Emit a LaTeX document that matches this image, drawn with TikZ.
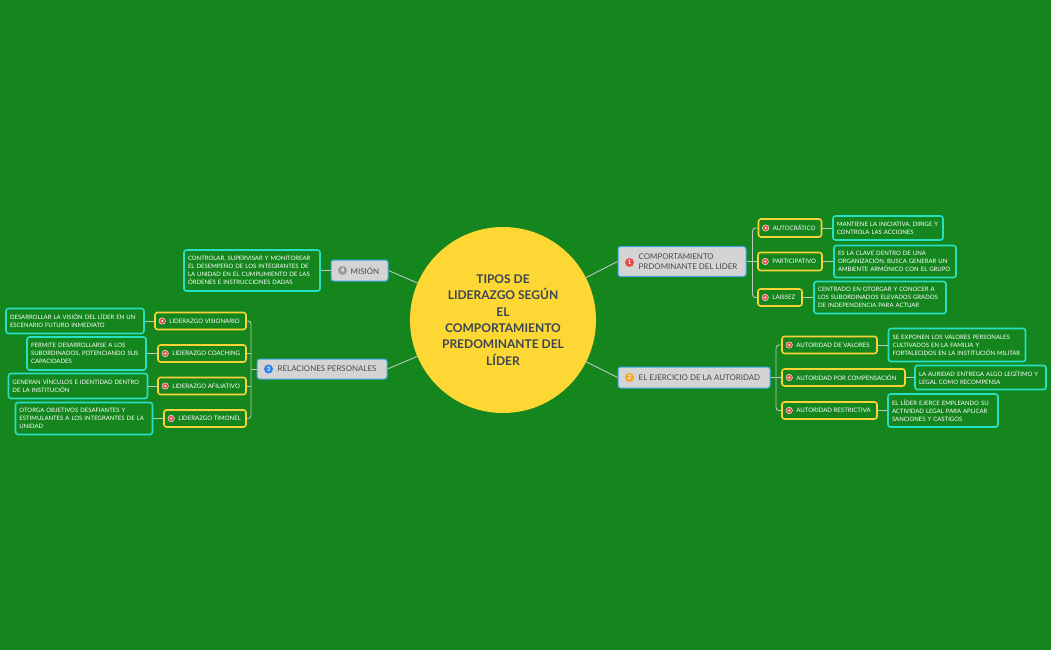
\documentclass[tikz,border=0pt]{standalone}
\usepackage{fontspec}
\setmainfont{Lato}
\usetikzlibrary{calc}
\definecolor{bg}{HTML}{15861E}
\definecolor{rootc}{HTML}{FDD835}
\definecolor{roottext}{HTML}{3B4554}
\definecolor{mainfill}{HTML}{D4D4D4}
\definecolor{mainborder}{HTML}{3DA5E8}
\definecolor{maintext}{HTML}{4A4A4A}
\definecolor{subborder}{HTML}{F7D336}
\definecolor{descborder}{HTML}{26E0C4}
\definecolor{linec}{HTML}{BCC8BC}
\definecolor{iconred}{HTML}{E84A4A}
\definecolor{iconorange}{HTML}{F5A623}
\definecolor{iconblue}{HTML}{2F80E8}
\definecolor{icongray}{HTML}{9A9A9A}
\tikzset{
  root/.style={circle, fill=rootc, minimum size=186pt, inner sep=0pt, text=roottext,
    font=\fontsize{12}{16.3}\selectfont\bfseries, align=center},
  mainbox/.style={draw=mainborder, line width=1pt, fill=mainfill, rounded corners=2.5pt, inner sep=0pt},
  mtext/.style={text=maintext, font=\fontsize{7.9}{10.6}\selectfont, align=left, inner sep=0pt, anchor=west},
  subbox/.style={draw=subborder, line width=1.6pt, rounded corners=2.5pt, fill=bg, inner sep=0pt},
  stext/.style={text=white, font=\fontsize{6.1}{7}\selectfont, inner sep=0pt, anchor=west},
  desc/.style={draw=descborder, line width=1.6pt, rounded corners=2.5pt, fill=bg, inner sep=0pt,
    text=white, font=\fontsize{6}{8}\selectfont, align=left},
  conn/.style={draw=linec, line width=0.9pt},
  numicon/.style={circle, fill=#1, inner sep=0pt, minimum size=9pt, text=white,
    font=\fontsize{6}{6}\selectfont\bfseries},
  subicon/.style={circle, fill=iconred, draw=white, line width=0.4pt, inner sep=0pt, minimum size=6.5pt,
    path picture={\fill[white] (path picture bounding box.center) circle (1.1pt);}}
}
\begin{document}
\begin{tikzpicture}[x=1pt,y=-1pt]
\useasboundingbox (0,0) rectangle (1051,650);
\fill[bg] (0,0) rectangle (1051,650);

% root
\node[root] (root) at (503,320) {TIPOS DE\\LIDERAZGO SEGÚN\\EL\\COMPORTAMIENTO\\PREDOMINANTE DEL\\LÍDER};

% main branches
\node[mainbox, minimum width=128pt, minimum height=30pt] (c1) at (682,261.5) {};
\node[mainbox, minimum width=152pt, minimum height=21pt] (c2) at (694,377.5) {};
\node[mainbox, minimum width=130pt, minimum height=20pt] (c3) at (322,369) {};
\node[mainbox, minimum width=57pt, minimum height=21pt] (c4) at (359.5,270.5) {};
\node[numicon=iconred] (ic1) at ($(c1.west)+(12,1)$) {1};
\node[numicon=iconorange] (ic2) at ($(c2.west)+(12,0)$) {2};
\node[numicon=iconblue] (ic3) at ($(c3.west)+(12,0)$) {3};
\node[numicon=icongray] (ic4) at ($(c4.west)+(12,0)$) {4};
\node[mtext] (t1) at ($(c1.west)+(21,0)$) {COMPORTAMIENTO\\PRDOMINANTE DEL LIDER};
\node[mtext] (t2) at ($(c2.west)+(21,0)$) {EL EJERCICIO DE LA AUTORIDAD};
\node[mtext] (t3) at ($(c3.west)+(21,0)$) {RELACIONES PERSONALES};
\node[mtext] (t4) at ($(c4.west)+(20,0)$) {MISIÓN};

% sub nodes right top
\node[subbox, minimum width=63pt, minimum height=18pt] (a1) at (790,228) {};
\node[subbox, minimum width=64pt, minimum height=18pt] (a2) at (790,261.5) {};
\node[subbox, minimum width=44pt, minimum height=17pt] (a3) at (780,297.5) {};
% sub nodes right bottom
\node[subbox, minimum width=95pt, minimum height=17pt] (b1) at (829.5,345) {};
\node[subbox, minimum width=123pt, minimum height=17pt] (b2) at (843.5,377.5) {};
\node[subbox, minimum width=95pt, minimum height=17pt] (b3) at (829.5,410.5) {};
% sub nodes left
\node[subbox, minimum width=91pt, minimum height=17pt] (l1) at (200.5,321) {};
\node[subbox, minimum width=88pt, minimum height=17pt] (l2) at (202,353.5) {};
\node[subbox, minimum width=88pt, minimum height=17pt] (l3) at (202,386) {};
\node[subbox, minimum width=82pt, minimum height=17pt] (l4) at (205,418.5) {};

\foreach \n/\t in {a1/AUTOCRÁTICO, a2/PARTICIPATIVO, a3/LAISSEZ, b1/AUTORIDAD DE VALORES,
  b2/AUTORIDAD POR COMPENSACIÓN, b3/AUTORIDAD RESTRICTIVA, l1/LIDERAZGO VISIONARIO,
  l2/LIDERAZGO COACHING, l3/LIDERAZGO AFILIATIVO, l4/LIDERAZGO TIMONEL}{
  \node[subicon] (i\n) at ($(\n.west)+(8,0)$) {};
  \node[stext] (s\n) at ($(\n.west)+(15,0)$) {\t};
}

% descriptions
\node[desc, minimum width=110pt, minimum height=24pt, text width=102pt] (d1) at (888,228)
  {MANTIENE LA INICIATIVA, DIRIGE Y\\CONTROLA LAS ACCIONES};
\node[desc, minimum width=122pt, minimum height=32pt, text width=114pt] (d2) at (895,261.5)
  {ES LA CLAVE DENTRO DE UNA\\ORGANIZACIÓN, BUSCA GENERAR UN\\AMBIENTE ARMÓNICO CON EL GRUPO};
\node[desc, minimum width=132pt, minimum height=32pt, text width=124pt] (d3) at (880,297.5)
  {CENTRADO EN OTORGAR Y CONOCER A\\LOS SUBORDINADOS ELEVADOS GRADOS\\DE INDEPENDENCIA PARA ACTUAR};
\node[desc, minimum width=137pt, minimum height=33pt, text width=129pt] (e1) at (957,345)
  {SE EXPONEN LOS VALORES PERSONALES\\CULTIVADOS EN LA FAMILIA Y\\FORTALECIDOS EN LA INSTITUCIÓN MILITAR};
\node[desc, minimum width=131pt, minimum height=24pt, text width=123pt] (e2) at (980.5,377.5)
  {LA AURIDAD ENTREGA ALGO LEGÍTIMO Y\\LEGAL COMO RECOMPENSA};
\node[desc, minimum width=110pt, minimum height=33pt, text width=102pt] (e3) at (943,410.5)
  {EL LÍDER EJERCE EMPLEANDO SU\\ACTIVIDAD LEGAL PARA APLICAR\\SANCIONES Y CASTIGOS};
\node[desc, minimum width=136pt, minimum height=41pt, text width=128pt] (g1) at (252,270.5)
  {CONTROLAR, SUPERVISAR Y MONITOREAR\\EL DESEMPEÑO DE LOS INTEGRANTES DE\\LA UNIDAD EN EL CUMPLIMIENTO DE LAS\\ÓRDENES E INSTRUCCIONES DADAS};
\node[desc, minimum width=138pt, minimum height=25pt, text width=130pt] (f1) at (75,321)
  {DESARROLLAR LA VISIÓN DEL LÍDER EN UN\\ESCENARIO FUTURO INMEDIATO};
\node[desc, minimum width=119pt, minimum height=33pt, text width=111pt] (f2) at (86.5,353.5)
  {PERMITE DESARROLLARSE A LOS\\SUBORDINADOS, POTENCIANDO SUS\\CAPACIDADES};
\node[desc, minimum width=139pt, minimum height=25pt, text width=131pt] (f3) at (78,386)
  {GENERAN VÍNCULOS E IDENTIDAD DENTRO\\DE LA INSTITUCIÓN};
\node[desc, minimum width=137pt, minimum height=32pt, text width=129pt] (f4) at (84,418.5)
  {OTORGA OBJETIVOS DESAFIANTES Y\\ESTIMULANTES A LOS INTEGRANTES DE LA\\UNIDAD};

% connectors root -> main
\draw[conn] (root) -- (c1.west);
\draw[conn] (root) -- (c2.west);
\draw[conn] (root) -- (c3.east);
\draw[conn] (root) -- (c4.east);

% brackets
\coordinate (sp1) at (752.5,261.5);
\coordinate (sp2) at (776,377.5);
\coordinate (sp3) at (251,369);
\draw[conn, rounded corners=3pt] (a1.west) -- (sp1 |- a1.west) -- (sp1 |- a3.west) -- (a3.west);
\draw[conn] (c1.east) -- (a2.west);
\draw[conn, rounded corners=3pt] (b1.west) -- (sp2 |- b1.west) -- (sp2 |- b3.west) -- (b3.west);
\draw[conn] (c2.east) -- (b2.west);
\draw[conn, rounded corners=3pt] (l1.east) -- (sp3 |- l1.east) -- (sp3 |- l4.east) -- (l4.east);
\draw[conn] (c3.west) -- (sp3);
\draw[conn] (sp3 |- l2.east) -- (l2.east);
\draw[conn] (sp3 |- l3.east) -- (l3.east);

% leaf connectors
\draw[conn] (c4.west) -- (g1.east);
\draw[conn] (a1.east) -- (d1.west);
\draw[conn] (a2.east) -- (d2.west);
\draw[conn] (a3.east) -- (d3.west);
\draw[conn] (b1.east) -- (e1.west);
\draw[conn] (b2.east) -- (e2.west);
\draw[conn] (b3.east) -- (e3.west);
\draw[conn] (l1.west) -- (f1.east);
\draw[conn] (l2.west) -- (f2.east);
\draw[conn] (l3.west) -- (f3.east);
\draw[conn] (l4.west) -- (f4.east);
\end{tikzpicture}
\end{document}
